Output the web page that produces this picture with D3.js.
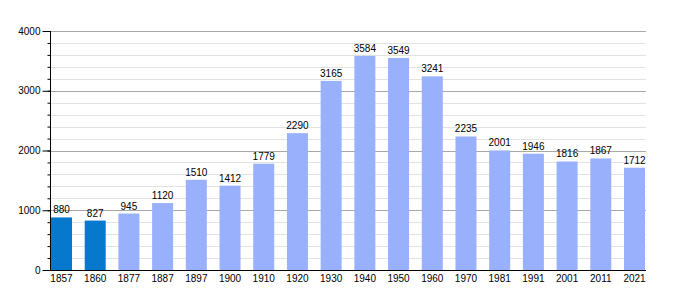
<!DOCTYPE html>
<html>
<head>
<meta charset="utf-8">
<script src="https://cdn.jsdelivr.net/npm/d3@7"></script>
<style>
  body { margin: 0; background: #fff; }
  text { font-family: "Liberation Sans", Arial, sans-serif; }
</style>
</head>
<body>
<div id="chart"></div>
<script>
const years = ["1857", "1860", "1877", "1887", "1897", "1900", "1910", "1920", "1930",
  "1940", "1950", "1960", "1970", "1981", "1991", "2001", "2011", "2021"];
const population = [880, 827, 945, 1120, 1510, 1412, 1779, 2290, 3165,
  3584, 3549, 3241, 2235, 2001, 1946, 1816, 1867, 1712];
// first two counts are drawn in the darker colour
const highlighted = ["1857", "1860"];
const yTicks = [0, 1000, 2000, 3000, 4000];

const width = 675, height = 300;
const margin = {top: 31, right: 29, bottom: 30, left: 50};
const fontSize = 10;

const svg = d3.select("#chart").append("svg")
  .attr("width", width)
  .attr("height", height);

const x = d3.scaleBand()
  .domain(years)
  .range([margin.left + 1, width - margin.right - 1])
  .paddingInner(0.377)
  .paddingOuter(0);

const y = d3.scaleLinear()
  .domain([0, 4000])
  .range([height - margin.bottom, margin.top]);

// minor grid
svg.append("g")
  .selectAll("line")
  .data(d3.range(200, 4000, 200).filter(v => v % 1000 !== 0))
  .join("line")
    .attr("x1", margin.left)
    .attr("x2", width - margin.right)
    .attr("y1", d => Math.round(y(d)) + 0.5)
    .attr("y2", d => Math.round(y(d)) + 0.5)
    .attr("stroke", "#e2e2e2");

// major grid
svg.append("g")
  .selectAll("line")
  .data(yTicks.slice(1))
  .join("line")
    .attr("x1", margin.left)
    .attr("x2", width - margin.right)
    .attr("y1", d => Math.round(y(d)) + 0.5)
    .attr("y2", d => Math.round(y(d)) + 0.5)
    .attr("stroke", "#a8a8a8");

const data = years.map((yr, i) => ({year: yr, value: population[i]}));

svg.append("g")
  .selectAll("rect")
  .data(data)
  .join("rect")
    .attr("x", d => x(d.year))
    .attr("width", x.bandwidth())
    .attr("y", d => y(d.value))
    .attr("height", d => y(0) - y(d.value))
    .attr("fill", d => highlighted.includes(d.year) ? "#0779cc" : "#99b0fd");

svg.append("g")
  .selectAll("text")
  .data(data)
  .join("text")
    .attr("x", d => x(d.year) + x.bandwidth() / 2)
    .attr("y", d => y(d.value) - 4)
    .attr("text-anchor", "middle")
    .attr("font-size", fontSize)
    .attr("fill", "#000")
    .text(d => d.value);

// y axis with minor ticks
const yAxis = svg.append("g")
  .attr("transform", `translate(${margin.left + 0.5},0)`);

yAxis.append("g")
  .call(d3.axisLeft(y).tickValues(d3.range(0, 4001, 200)).tickSize(3).tickFormat(""))
  .call(g => g.select(".domain").remove())
  .call(g => g.selectAll("line").attr("stroke", "#000"));

yAxis.append("g")
  .call(d3.axisLeft(y).tickValues(yTicks).tickSize(8).tickPadding(2).tickFormat(d3.format("d")))
  .call(g => g.select(".domain").attr("d", `M0,${margin.top}V${height - margin.bottom}`).attr("stroke", "#000"))
  .call(g => g.selectAll("line").attr("stroke", "#000"))
  .call(g => g.selectAll("text")
    .attr("font-family", "Liberation Sans, Arial, sans-serif")
    .attr("font-size", fontSize)
    .attr("fill", "#000"));

// x axis
svg.append("g")
  .attr("transform", `translate(0,${height - margin.bottom + 0.5})`)
  .call(d3.axisBottom(x).tickSize(0).tickPadding(4))
  .call(g => g.select(".domain").attr("d", `M${margin.left},0H${width - margin.right}`).attr("stroke", "#000"))
  .call(g => g.selectAll("text")
    .attr("font-family", "Liberation Sans, Arial, sans-serif")
    .attr("font-size", fontSize)
    .attr("fill", "#000"));
</script>
</body>
</html>
